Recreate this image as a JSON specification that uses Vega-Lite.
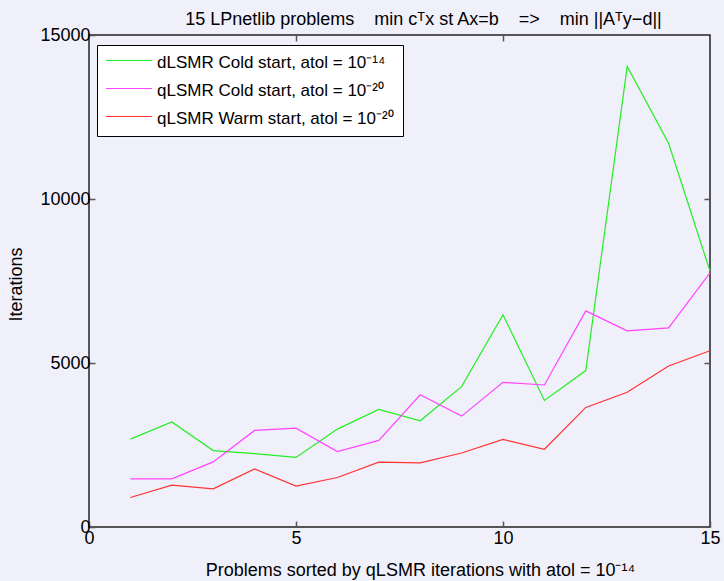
{
  "$schema": "https://vega.github.io/schema/vega-lite/v6.json",
  "width": 621,
  "height": 492,
  "autosize": {"type": "none"},
  "padding": {"left": 89, "top": 35, "right": 14, "bottom": 54},
  "background": "#f0f0fb",
  "title": {
    "text": "15 LPnetlib problems\u00a0\u00a0\u00a0\u00a0min cᵀx st Ax=b\u00a0\u00a0\u00a0\u00a0=>\u00a0\u00a0\u00a0\u00a0min ||Aᵀy−d||",
    "font": "Liberation Sans",
    "fontSize": 18,
    "fontWeight": "normal",
    "color": "black",
    "offset": -3,
    "dx": 24
  },
  "config": {
    "view": {"stroke": "#222222", "strokeWidth": 1.5, "fill": "#f0f0fb"},
    "axis": {
      "domain": false,
      "grid": false,
      "labelFlush": false,
      "labelFont": "Liberation Sans",
      "labelFontSize": 18,
      "labelColor": "black",
      "titleFont": "Liberation Sans",
      "titleFontSize": 18,
      "titleFontWeight": "normal",
      "titleColor": "black",
      "tickColor": "#555555",
      "tickSize": -6,
      "tickWidth": 1.5
    }
  },
  "data": {
    "values": [
      {"x": 1, "s": "dLSMR Cold start, atol = 10⁻¹⁴", "it": 2680},
      {"x": 2, "s": "dLSMR Cold start, atol = 10⁻¹⁴", "it": 3200},
      {"x": 3, "s": "dLSMR Cold start, atol = 10⁻¹⁴", "it": 2330},
      {"x": 4, "s": "dLSMR Cold start, atol = 10⁻¹⁴", "it": 2240},
      {"x": 5, "s": "dLSMR Cold start, atol = 10⁻¹⁴", "it": 2120},
      {"x": 6, "s": "dLSMR Cold start, atol = 10⁻¹⁴", "it": 2985},
      {"x": 7, "s": "dLSMR Cold start, atol = 10⁻¹⁴", "it": 3585},
      {"x": 8, "s": "dLSMR Cold start, atol = 10⁻¹⁴", "it": 3240},
      {"x": 9, "s": "dLSMR Cold start, atol = 10⁻¹⁴", "it": 4280},
      {"x": 10, "s": "dLSMR Cold start, atol = 10⁻¹⁴", "it": 6470},
      {"x": 11, "s": "dLSMR Cold start, atol = 10⁻¹⁴", "it": 3860},
      {"x": 12, "s": "dLSMR Cold start, atol = 10⁻¹⁴", "it": 4770},
      {"x": 13, "s": "dLSMR Cold start, atol = 10⁻¹⁴", "it": 14040},
      {"x": 14, "s": "dLSMR Cold start, atol = 10⁻¹⁴", "it": 11700},
      {"x": 15, "s": "dLSMR Cold start, atol = 10⁻¹⁴", "it": 7800},
      {"x": 1, "s": "qLSMR Cold start, atol = 10⁻²⁰", "it": 1470},
      {"x": 2, "s": "qLSMR Cold start, atol = 10⁻²⁰", "it": 1470},
      {"x": 3, "s": "qLSMR Cold start, atol = 10⁻²⁰", "it": 1985},
      {"x": 4, "s": "qLSMR Cold start, atol = 10⁻²⁰", "it": 2945},
      {"x": 5, "s": "qLSMR Cold start, atol = 10⁻²⁰", "it": 3015},
      {"x": 6, "s": "qLSMR Cold start, atol = 10⁻²⁰", "it": 2300},
      {"x": 7, "s": "qLSMR Cold start, atol = 10⁻²⁰", "it": 2640},
      {"x": 8, "s": "qLSMR Cold start, atol = 10⁻²⁰", "it": 4030},
      {"x": 9, "s": "qLSMR Cold start, atol = 10⁻²⁰", "it": 3380},
      {"x": 10, "s": "qLSMR Cold start, atol = 10⁻²⁰", "it": 4410},
      {"x": 11, "s": "qLSMR Cold start, atol = 10⁻²⁰", "it": 4330},
      {"x": 12, "s": "qLSMR Cold start, atol = 10⁻²⁰", "it": 6590},
      {"x": 13, "s": "qLSMR Cold start, atol = 10⁻²⁰", "it": 5980},
      {"x": 14, "s": "qLSMR Cold start, atol = 10⁻²⁰", "it": 6070},
      {"x": 15, "s": "qLSMR Cold start, atol = 10⁻²⁰", "it": 7750},
      {"x": 1, "s": "qLSMR Warm start, atol = 10⁻²⁰", "it": 900},
      {"x": 2, "s": "qLSMR Warm start, atol = 10⁻²⁰", "it": 1275},
      {"x": 3, "s": "qLSMR Warm start, atol = 10⁻²⁰", "it": 1165},
      {"x": 4, "s": "qLSMR Warm start, atol = 10⁻²⁰", "it": 1770},
      {"x": 5, "s": "qLSMR Warm start, atol = 10⁻²⁰", "it": 1245},
      {"x": 6, "s": "qLSMR Warm start, atol = 10⁻²⁰", "it": 1510},
      {"x": 7, "s": "qLSMR Warm start, atol = 10⁻²⁰", "it": 1975},
      {"x": 8, "s": "qLSMR Warm start, atol = 10⁻²⁰", "it": 1955},
      {"x": 9, "s": "qLSMR Warm start, atol = 10⁻²⁰", "it": 2255},
      {"x": 10, "s": "qLSMR Warm start, atol = 10⁻²⁰", "it": 2670},
      {"x": 11, "s": "qLSMR Warm start, atol = 10⁻²⁰", "it": 2370},
      {"x": 12, "s": "qLSMR Warm start, atol = 10⁻²⁰", "it": 3645},
      {"x": 13, "s": "qLSMR Warm start, atol = 10⁻²⁰", "it": 4110},
      {"x": 14, "s": "qLSMR Warm start, atol = 10⁻²⁰", "it": 4910},
      {"x": 15, "s": "qLSMR Warm start, atol = 10⁻²⁰", "it": 5375}
    ]
  },
  "layer": [
    {
      "mark": {"type": "line", "strokeWidth": 1.2},
      "encoding": {
        "x": {
          "field": "x", "type": "quantitative",
          "scale": {"domain": [0, 15], "nice": false, "zero": false},
          "axis": {
            "orient": "bottom",
            "values": [0, 5, 10, 15],
            "labelPadding": 8,
            "title": "Problems sorted by qLSMR iterations with atol = 10⁻¹⁴",
            "titleX": 331,
            "titleY": 48,
            "titleBaseline": "alphabetic"
          }
        },
        "y": {
          "field": "it", "type": "quantitative",
          "scale": {"domain": [0, 15000], "nice": false},
          "axis": {
            "orient": "left",
            "values": [0, 5000, 10000, 15000],
            "format": "d",
            "labelPadding": 5,
            "title": "Iterations",
            "titleX": -73,
            "titleY": 249,
            "titleBaseline": "middle"
          }
        },
        "color": {
          "field": "s", "type": "nominal",
          "scale": {
            "domain": ["dLSMR Cold start, atol = 10⁻¹⁴", "qLSMR Cold start, atol = 10⁻²⁰", "qLSMR Warm start, atol = 10⁻²⁰"],
            "range": ["#22ee22", "#ff44ff", "#ff3333"]
          },
          "legend": {
            "title": null,
            "orient": "none",
            "legendX": 8,
            "legendY": 10,
            "fillColor": "white",
            "strokeColor": "black",
            "padding": 9,
            "symbolType": "M-1.125,-0.3125H4.625",
            "symbolSize": 256,
            "symbolStrokeWidth": 1.2,
            "labelFont": "Liberation Sans",
            "labelFontSize": 17,
            "labelColor": "black",
            "labelOffset": 33,
            "labelLimit": 400,
            "rowPadding": 11
          }
        }
      }
    },
    {
      "mark": {"type": "line", "strokeOpacity": 0},
      "encoding": {
        "x": {
          "field": "x", "type": "quantitative",
          "axis": {"orient": "top", "values": [5, 10], "labels": false, "title": null}
        },
        "y": {
          "field": "it", "type": "quantitative",
          "axis": {"orient": "right", "values": [5000, 10000], "labels": false, "title": null}
        },
        "detail": {"field": "s"}
      }
    }
  ],
  "resolve": {"axis": {"x": "independent", "y": "independent"}}
}
